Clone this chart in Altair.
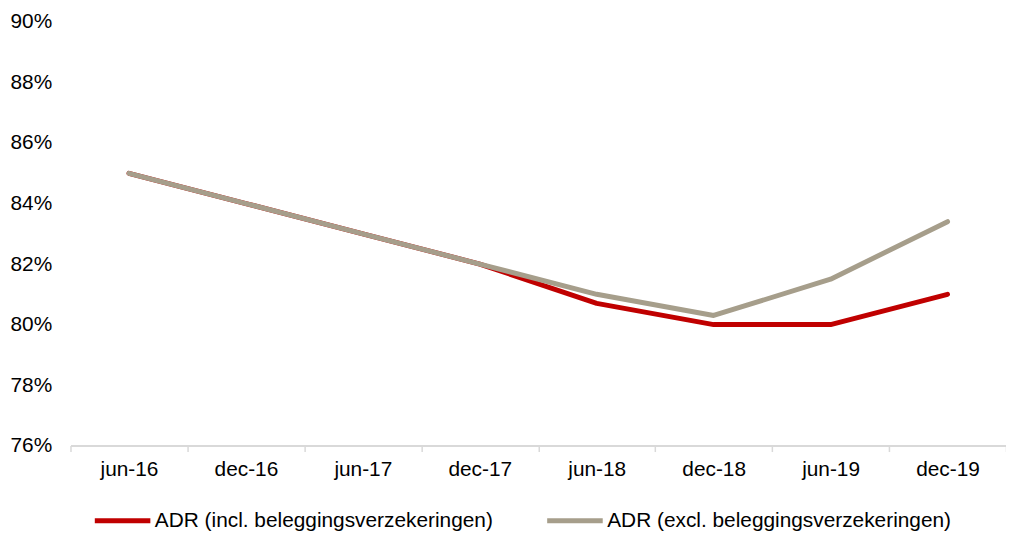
import altair as alt
import pandas as pd

periods = ["jun-16", "dec-16", "jun-17", "dec-17", "jun-18", "dec-18", "jun-19", "dec-19"]
incl = [0.850, 0.840, 0.830, 0.820, 0.807, 0.800, 0.800, 0.810]
excl = [0.850, 0.840, 0.830, 0.820, 0.810, 0.803, 0.815, 0.834]
series_names = ["ADR (incl. beleggingsverzekeringen)", "ADR (excl. beleggingsverzekeringen)"]
colors = ["#c00000", "#a69e8b"]
y_ticks = [0.76, 0.78, 0.80, 0.82, 0.84, 0.86, 0.88, 0.90]

rows = []
for name, vals in zip(series_names, [incl, excl]):
    for i, (p, v) in enumerate(zip(periods, vals)):
        rows.append({"period": p, "value": v, "series": name, "idx": i})
df = pd.DataFrame(rows)

FONT = "Liberation Sans"
FS = 21

chart = alt.Chart(df).mark_line(strokeWidth=5, strokeCap="round", strokeJoin="round").encode(
    x=alt.X("period:N", sort=periods, title=None,
            scale=alt.Scale(paddingInner=0, paddingOuter=0),
            axis=alt.Axis(labelAngle=0, tickBand="extent", domainColor="#d9d9d9", tickColor="#d9d9d9",
                          tickSize=6, domainWidth=2, tickWidth=1.5, labelFontSize=FS, labelFont=FONT,
                          labelColor="#000000", labelPadding=7, grid=False)),
    y=alt.Y("value:Q", title=None,
            scale=alt.Scale(domain=[0.76, 0.90], nice=False, zero=False),
            axis=alt.Axis(values=y_ticks, format=".0%", domain=False, ticks=False, grid=False,
                          labelFontSize=FS, labelFont=FONT, labelColor="#000000", labelPadding=19)),
    color=alt.Color("series:N", sort=series_names, title=None,
                    scale=alt.Scale(domain=series_names, range=colors),
                    legend=alt.Legend(orient="none", direction="horizontal", legendX=22, legendY=472,
                                      symbolType="M-1,0H1", symbolSize=3136, symbolStrokeWidth=5,
                                      labelFontSize=FS, labelFont=FONT, labelColor="#000000",
                                      labelOffset=2, columnPadding=44, labelLimit=500)),
    order=alt.Order("idx:Q"),
).properties(
    width=943, height=427,
    autosize=alt.AutoSizeParams(type="none"),
    padding={"left": 63, "top": 12, "right": 0, "bottom": 86},
    background="#ffffff",
).configure_view(stroke=None)

chart.save("out.html", embed_options={"renderer": "svg", "actions": False})
